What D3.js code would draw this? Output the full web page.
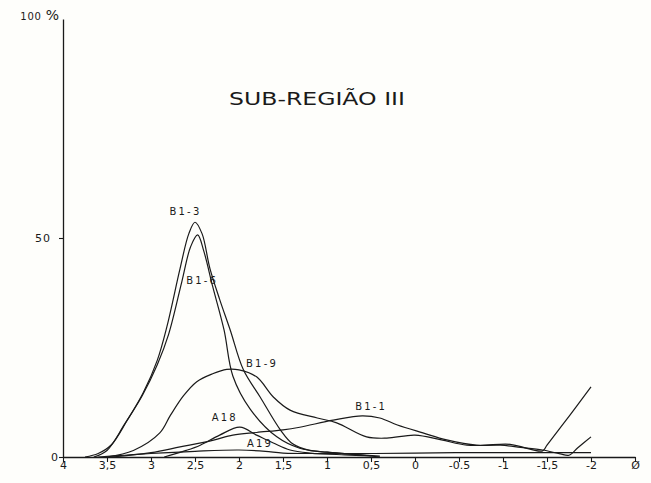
<!DOCTYPE html>
<html>
<head>
<meta charset="utf-8">
<script src="https://cdn.jsdelivr.net/npm/d3@7/dist/d3.min.js"></script>
<style>
  html, body { margin: 0; padding: 0; background: #fefefb; }
  svg { display: block; }
  text { font-family: "DejaVu Sans", "Liberation Sans", sans-serif; fill: #1a1a1a; }
</style>
</head>
<body>
<svg id="chart" width="651" height="483"></svg>
<script>
// ---- data (phi on x, % on y) ----
const title = "SUB-REGIÃO III";
const xTickValues = [4, 3.5, 3, 2.5, 2, 1.5, 1, 0.5, 0, -0.5, -1, -1.5, -2, -2.5];
const xTickLabels = ["4", "3,5", "3", "2,5", "2", "1,5", "1", "0,5", "0", "-0.5", "-1", "-1,5", "-2", "Ø"];
const yTickValues = [0, 50];
const yTickLabels = ["0", "50"];

const b13Phi = [3.75, 3.6, 3.45, 3.27, 3.09, 2.93, 2.82, 2.67, 2.57, 2.5, 2.42, 2.33, 2.22, 2.1, 1.95, 1.76, 1.53, 1.39, 1.2, 1.0, 0.7, 0.4];
const b13Val = [0, 0.8, 2.8, 8.4, 14.6, 22, 29.7, 43, 51, 53.6, 51, 43, 36, 29, 19.9, 13.7, 6.2, 3.0, 1.5, 1.1, 0.6, 0];

const b16Phi = [3.65, 3.5, 3.3, 3.1, 2.93, 2.8, 2.65, 2.55, 2.47, 2.4, 2.3, 2.17, 2.07, 1.875, 1.57, 1.31, 1.0, 0.7, 0.4];
const b16Val = [0, 1.5, 7.5, 14, 21, 28, 40, 48, 50.7, 47, 39, 29, 18.5, 11.0, 4.6, 2.0, 1.1, 0.6, 0.2];

const b19Phi = [3.5, 3.2, 2.9, 2.78, 2.63, 2.48, 2.3, 2.14, 2.0, 1.8, 1.61, 1.42, 1.11, 0.89, 0.55, 0.32, 0.0, -0.3, -0.59, -0.97, -1.2, -1.45, -1.65, -1.75, -1.85, -2.0];
const b19Val = [0, 1.5, 5.5, 9.5, 14.0, 17.2, 19.0, 20, 19.9, 18.3, 13.7, 10.7, 8.9, 7.8, 4.6, 4.3, 5.0, 3.9, 2.7, 2.7, 2.2, 1.6, 0.7, 0.4, 2.1, 4.6];

const b11Phi = [3.45, 3.0, 2.67, 2.3, 2.07, 1.8, 1.5, 1.31, 0.93, 0.6, 0.4, 0.2, -0.09, -0.36, -0.7, -1.08, -1.45, -1.5, -1.75, -2.0];
const b11Val = [0, 1.0, 2.3, 3.8, 5, 5.6, 6.2, 6.8, 8.4, 9.4, 8.9, 7.3, 5.5, 3.9, 2.7, 2.9, 1.4, 2.7, 9.3, 16];

const a18Phi = [2.85, 2.6, 2.44, 2.22, 1.99, 1.8, 1.61, 1.42, 1.19, 0.8, 0.5];
const a18Val = [0, 1.5, 2.7, 5, 6.8, 5, 3.2, 1.6, 0.9, 0.5, 0.3];

const a19Phi = [3.6, 3.3, 3.0, 2.5, 2.0, 1.7, 1.5, 1.0, 0.5, 0, -0.5, -1, -1.5, -2];
const a19Val = [0, 0.4, 0.8, 1.3, 1.6, 1.3, 0.9, 0.8, 0.8, 0.9, 1.0, 1.0, 1.0, 1.0];

const seriesNames = ["B1-3", "B1-6", "B1-9", "B1-1", "A18", "A19"];
const seriesPhi = [b13Phi, b16Phi, b19Phi, b11Phi, a18Phi, a19Phi];
const seriesVal = [b13Val, b16Val, b19Val, b11Val, a18Val, a19Val];
// label anchor positions in data units (phi, %)
const labelPhi = [2.79, 2.6, 1.92, 0.68, 2.31, 1.91];
const labelVal = [55.2, 39.5, 20.5, 10.8, 8.2, 2.3];

// ---- drawing ----
const svg = d3.select("#chart");
const x = d3.scaleLinear().domain([4, -2.5]).range([63, 635]);
const y = d3.scaleLinear().domain([0, 100]).range([457, 19]);

// axes
const xAxis = d3.axisBottom(x)
  .tickValues(xTickValues)
  .tickFormat((d, i) => xTickLabels[i])
  .tickSize(5).tickSizeOuter(0).tickPadding(0);
const gx = svg.append("g").attr("transform", `translate(0,${y(0)})`).call(xAxis);
gx.select(".domain").attr("stroke", "#1a1a1a").attr("stroke-width", 1.3);
gx.selectAll(".tick line").attr("stroke", "#1a1a1a").attr("stroke-width", 1.1);
gx.selectAll(".tick text").attr("font-size", 11).attr("fill", "#1a1a1a").attr("y", 4);

const yAxis = d3.axisLeft(y)
  .tickValues(yTickValues)
  .tickFormat((d, i) => yTickLabels[i])
  .tickSize(4).tickSizeOuter(0).tickPadding(4);
const gy = svg.append("g").attr("transform", `translate(${x(4)},0)`).call(yAxis);
gy.select(".domain").attr("stroke", "#1a1a1a").attr("stroke-width", 1.3);
gy.selectAll(".tick line").attr("stroke", "#1a1a1a").attr("stroke-width", 1.1);
gy.selectAll(".tick text").attr("font-size", 11).attr("fill", "#1a1a1a").attr("letter-spacing", 1)
  .attr("x", d => d === 0 ? -4 : -12);

// 100 % label
const topLabel = svg.append("text").attr("x", x(4) - 4).attr("y", y(100) + 1)
  .attr("text-anchor", "end");
topLabel.append("tspan").attr("font-size", 10).attr("letter-spacing", 0.8).text("100 ");
topLabel.append("tspan").attr("font-size", 14).text("%");

// title
svg.append("text").attr("x", 317).attr("y", 105).attr("text-anchor", "middle")
  .attr("font-size", 18).attr("textLength", 176).attr("lengthAdjust", "spacingAndGlyphs")
  .text(title);

// curves
const line = d3.line()
  .x(d => x(d[0])).y(d => y(d[1]))
  .curve(d3.curveCatmullRom.alpha(0.5));

seriesNames.forEach((name, i) => {
  const pts = seriesPhi[i].map((p, j) => [p, seriesVal[i][j]]);
  svg.append("path")
    .datum(pts)
    .attr("d", line)
    .attr("fill", "none")
    .attr("stroke", "#1a1a1a")
    .attr("stroke-width", 1.2);
});

// series labels
seriesNames.forEach((name, i) => {
  svg.append("text")
    .attr("x", x(labelPhi[i])).attr("y", y(labelVal[i]))
    .attr("font-size", 10).attr("letter-spacing", 2.2)
    .text(name);
});
</script>
</body>
</html>
